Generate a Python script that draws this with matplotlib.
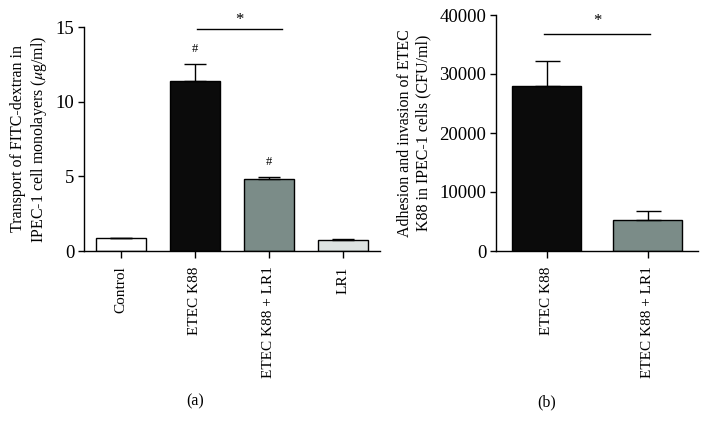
import numpy as np
import matplotlib
matplotlib.use("Agg")
import matplotlib.pyplot as plt

plt.rcParams['font.family'] = ['Liberation Serif', 'DejaVu Serif']
plt.rcParams['mathtext.fontset'] = 'stix'

# panel (a) data
groups_a = ['Control', 'ETEC K88', 'ETEC K88 + LR1', 'LR1']
values_a = [0.85, 11.4, 4.85, 0.75]
errors_a = [0.0, 1.1, 0.08, 0.05]
colors_a = ['#ffffff', '#0b0b0b', '#7b8c88', '#dde3e1']

# panel (b) data
groups_b = ['ETEC K88', 'ETEC K88 + LR1']
values_b = [28000, 5200]
errors_b = [4200, 1600]
colors_b = ['#0b0b0b', '#7b8c88']

fig = plt.figure(figsize=(7.07, 4.34), dpi=100)
ax1 = fig.add_axes([84/707, 1-251/434, (380-84)/707, (251-27)/434])
ax2 = fig.add_axes([496/707, 1-251/434, (698-496)/707, (251-15)/434])


def style(ax):
    for s in ['top', 'right']:
        ax.spines[s].set_visible(False)
    for s in ['left', 'bottom']:
        ax.spines[s].set_linewidth(1.0)
    ax.tick_params(axis='both', direction='out', width=1.0)
    ax.tick_params(axis='x', length=5, labelsize=11, pad=6)
    ax.tick_params(axis='y', length=4, labelsize=13.5, pad=3)


# (a)
x = np.arange(len(groups_a))
ax1.bar(x, values_a, width=0.68, color=colors_a, edgecolor='black', linewidth=1.0,
        yerr=[np.zeros(len(errors_a)), errors_a], capsize=8,
        error_kw=dict(elinewidth=1.0, capthick=1.0, ecolor='black'))
ax1.set_xlim(-0.5, 3.5)
ax1.set_ylim(0, 15)
ax1.set_yticks([0, 5, 10, 15])
ax1.set_xticks(x)
ax1.set_xticklabels(groups_a, rotation=90)
ax1.set_ylabel('Transport of FITC-dextran in\nIPEC-1 cell monolayers ($\\mu$g/ml)',
               fontsize=11.5, labelpad=5)
style(ax1)
ax1.plot([1.03, 2.17], [14.87, 14.87], color='black', lw=1.0, clip_on=False)
ax1.text(1.6, 15.45, '*', ha='center', va='center', fontsize=12)
ax1.text(1, 13.5, '#', ha='center', va='center', fontsize=9)
ax1.text(2, 5.95, '#', ha='center', va='center', fontsize=9)
ax1.text(1, -10.1, '(a)', ha='center', va='center', fontsize=11.5)

# (b)
xb = np.arange(len(groups_b))
ax2.bar(xb, values_b, width=0.68, color=colors_b, edgecolor='black', linewidth=1.0,
        yerr=[np.zeros(len(errors_b)), errors_b], capsize=9,
        error_kw=dict(elinewidth=1.0, capthick=1.0, ecolor='black'))
ax2.set_xlim(-0.5, 1.5)
ax2.set_ylim(0, 40000)
ax2.set_yticks([0, 10000, 20000, 30000, 40000])
ax2.set_xticks(xb)
ax2.set_xticklabels(groups_b, rotation=90)
ax2.set_ylabel('Adhesion and invasion of ETEC\nK88 in IPEC-1 cells (CFU/ml)',
               fontsize=11.5, labelpad=6)
style(ax2)
ax2.plot([-0.02, 1.02], [36800, 36800], color='black', lw=1.0, clip_on=False)
ax2.text(0.5, 38900, '*', ha='center', va='center', fontsize=12)
ax2.text(0, -25600, '(b)', ha='center', va='center', fontsize=11.5)

fig.savefig('out.png', dpi=100)
